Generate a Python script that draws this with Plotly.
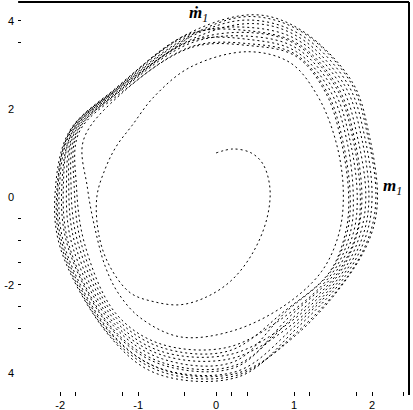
import plotly.graph_objects as go

# phase trajectory (m1, dm1/dt), written turn by turn
turn_01_m = [0.0, 0.22, 0.45, 0.6, 0.69, 0.65, 0.47, 0.2, -0.12, -0.46, -0.8, -1.1, -1.36, -1.5, -1.53, -1.42, -1.28, -1.08, -0.8, -0.33]
turn_01_dm = [1.0, 1.09, 1.0, 0.75, 0.2, -0.5, -1.27, -1.89, -2.27, -2.45, -2.38, -2.18, -1.59, -0.9, 0.0, 0.65, 1.15, 1.62, 2.27, 2.95]

turn_02_m = [0.4, 0.95, 1.3, 1.53, 1.63, 1.58, 1.35, 0.85, 0.2, -0.46, -0.97, -1.25, -1.42, -1.55, -1.65, -1.7]
turn_02_dm = [3.3, 3.05, 2.3, 1.3, 0.2, -0.8, -1.7, -2.5, -3.05, -3.18, -2.75, -2.2, -1.59, -0.75, 0.2, 1.3]

turn_03_m = [-1.2, -0.31, 0.42, 1.02, 1.41, 1.61, 1.70, 1.66, 1.45, 0.88, 0.16, -0.72, -1.3, -1.72, -1.82, -1.78]
turn_03_dm = [2.37, 3.4, 3.44, 3.2, 2.35, 1.22, 0.02, -0.81, -1.72, -2.59, -3.5, -3.41, -2.71, -1.12, 0.22, 1.47]

turn_04_m = [-1.25, -0.33, 0.48, 1.05, 1.55, 1.76, 1.85, 1.80, 1.55, 0.95, 0.24, -0.68, -1.33, -1.88, -1.96, -1.84]
turn_04_dm = [2.39, 3.54, 3.73, 3.44, 2.45, 1.28, -0.03, -0.83, -1.75, -2.8, -3.83, -3.77, -2.99, -1.14, 0.18, 1.49]

turn_05_m = [-1.28, -0.34, 0.4, 1.09, 1.69, 1.91, 2.0, 1.93, 1.66, 1.02, 0.3, -0.74, -1.35, -2.0, -2.06, -1.88]
turn_05_dm = [2.42, 3.63, 4.02, 3.68, 2.56, 1.33, 0.02, -0.84, -1.79, -3.01, -4.08, -4.03, -3.2, -1.15, 0.22, 1.5]

turn_06_m = [-1.31, -0.35, 0.5, 1.1, 1.75, 1.97, 2.07, 1.99, 1.7, 1.05, 0.28, -0.66, -1.34, -1.96, -2.03, -1.87]
turn_06_dm = [2.44, 3.72, 4.14, 3.78, 2.6, 1.35, -0.02, -0.85, -1.8, -3.1, -4.0, -3.94, -3.13, -1.15, 0.19, 1.5]

turn_07_m = [-1.3, -0.35, 0.44, 1.07, 1.61, 1.82, 1.92, 1.85, 1.6, 0.98, 0.2, -0.7, -1.32, -1.8, -1.89, -1.81]
turn_07_dm = [2.43, 3.68, 3.85, 3.54, 2.5, 1.3, 0.03, -0.83, -1.77, -2.89, -3.67, -3.59, -2.85, -1.13, 0.21, 1.48]

turn_08_m = [-1.25, -0.33, 0.46, 1.03, 1.47, 1.68, 1.76, 1.72, 1.49, 0.91, 0.14, -0.73, -1.29, -1.68, -1.79, -1.76]
turn_08_dm = [2.4, 3.54, 3.57, 3.3, 2.39, 1.25, -0.02, -0.82, -1.73, -2.68, -3.42, -3.33, -2.64, -1.11, 0.2, 1.46]

turn_09_m = [-1.21, -0.31, 0.43, 1.02, 1.43, 1.63, 1.72, 1.68, 1.46, 0.89, 0.22, -0.69, -1.32, -1.84, -1.92, -1.82]
turn_09_dm = [2.38, 3.42, 3.48, 3.24, 2.36, 1.23, 0.01, -0.81, -1.72, -2.62, -3.75, -3.68, -2.92, -1.13, 0.2, 1.48]

turn_10_m = [-1.26, -0.33, 0.47, 1.08, 1.65, 1.87, 1.96, 1.89, 1.63, 1.0, 0.27, -0.71, -1.34, -1.94, -2.01, -1.86]
turn_10_dm = [2.41, 3.57, 3.94, 3.61, 2.53, 1.31, -0.01, -0.84, -1.78, -2.95, -3.96, -3.9, -3.1, -1.14, 0.21, 1.49]

turn_11_m = [-1.29, -0.34, 0.42, 1.1, 1.73, 1.95, 2.05, 1.97, 1.69, 1.04, 0.29, -0.67, -1.35, -1.98, -2.04, -1.87]
turn_11_dm = [2.43, 3.66, 4.1, 3.75, 2.59, 1.34, 0.02, -0.85, -1.8, -3.07, -4.04, -3.99, -3.17, -1.15, 0.2, 1.5]

turn_12_m = [-1.3, -0.35, 0.45, 1.06, 1.57, 1.78, 1.87, 1.81, 1.57, 0.96, 0.18, -0.72, -1.31, -1.76, -1.86, -1.79]
turn_12_dm = [2.44, 3.7, 3.77, 3.47, 2.47, 1.28, 0.0, -0.83, -1.76, -2.83, -3.58, -3.5, -2.78, -1.12, 0.19, 1.47]

turn_13_m = [-1.24, -0.32, 0.44, 1.04, 1.51, 1.72, 1.81, 1.76, 1.52, 0.93, 0.25, -0.7, -1.33, -1.9, -1.98, -1.84, -1.28, -0.34]
turn_13_dm = [2.39, 3.5, 3.65, 3.37, 2.42, 1.26, 0.01, -0.82, -1.74, -2.74, -3.87, -3.81, -3.03, -1.14, 0.2, 1.49, 2.42, 3.63]

turns = [
    (turn_01_m, turn_01_dm), (turn_02_m, turn_02_dm), (turn_03_m, turn_03_dm),
    (turn_04_m, turn_04_dm), (turn_05_m, turn_05_dm), (turn_06_m, turn_06_dm),
    (turn_07_m, turn_07_dm), (turn_08_m, turn_08_dm), (turn_09_m, turn_09_dm),
    (turn_10_m, turn_10_dm), (turn_11_m, turn_11_dm), (turn_12_m, turn_12_dm),
    (turn_13_m, turn_13_dm),
]

x_ticks = [-2, -1, 0, 1, 2]
x_tick_text = ['-2', '-1', '0', '1', '2']
x_minor = [-1.8, -1.2, -0.4, 0.2, 0.4, 1.2, 1.8, 2.4]
y_ticks = [4, 2, 0, -2, -4]
y_tick_text = ['4', '2', '0', '-2', '4']
y_marks = [4, 3.5, -0.5, -1, -1.5, -2, -2.5, -3]

m1 = []
dm1 = []
for tm, tdm in turns:
    m1 += tm
    dm1 += tdm

fig = go.Figure()
fig.add_trace(go.Scatter(
    x=m1, y=dm1, mode='lines',
    line=dict(color='black', width=1, dash='2px,3px', shape='spline', smoothing=1),
    showlegend=False, hoverinfo='skip',
))
# empty trace so the tick-only axis gets drawn
fig.add_trace(go.Scatter(x=[None], y=[None], yaxis='y2', showlegend=False, hoverinfo='skip'))

fig.update_layout(
    width=413, height=410,
    margin=dict(l=22, r=4, t=2, b=19),
    plot_bgcolor='white', paper_bgcolor='white',
    font=dict(family='Liberation Sans', size=11, color='black'),
    xaxis=dict(
        range=[-2.49, 2.474], showgrid=False, zeroline=False, showline=False,
        automargin=False,
        tickvals=x_ticks, ticktext=x_tick_text, ticks='outside', ticklen=4,
        tickcolor='black', tickwidth=1,
        minor=dict(tickvals=x_minor, ticks='outside', ticklen=4, tickcolor='black', showgrid=False),
    ),
    yaxis=dict(
        range=[-4.41, 4.43], showgrid=False, zeroline=False, showline=False,
        automargin=False,
        tickvals=y_ticks, ticktext=y_tick_text, ticks='', ticklabelstandoff=7,
    ),
    yaxis2=dict(
        range=[-4.41, 4.43], overlaying='y', side='left', anchor='x',
        automargin=False,
        showgrid=False, zeroline=False, showline=False, showticklabels=False,
        tickvals=y_marks, ticks='outside', ticklen=3, tickcolor='black', tickwidth=1,
    ),
    shapes=[
        dict(type='line', xref='paper', yref='paper', x0=-0.01, x1=1, y0=1, y1=1,
             line=dict(color='black', width=2)),
        dict(type='line', xref='paper', yref='paper', x0=1, x1=1, y0=-0.01, y1=1,
             line=dict(color='black', width=2)),
    ],
    annotations=[
        dict(text='<i><b>ṁ</b><sub>1</sub></i>', xref='paper', yref='paper', x=0.456, y=1.003,
             yanchor='top', showarrow=False,
             font=dict(family='Liberation Serif', size=17, color='black')),
        dict(text='<i><b>m</b><sub>1</sub></i>', xref='paper', yref='paper', x=0.988, y=0.525,
             showarrow=False, font=dict(family='Liberation Serif', size=17, color='black')),
    ],
)

fig.write_html("out.html", config={'displayModeBar': False},
               post_script="document.body.style.margin='0';")
